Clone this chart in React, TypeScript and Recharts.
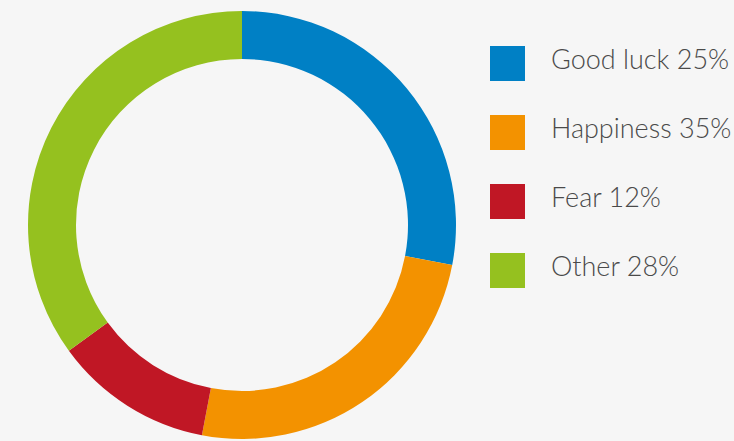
import { PieChart, Pie, Cell, Legend } from "recharts";

const names = ["Good luck", "Happiness", "Fear", "Other"];
const values = [28, 25, 12, 35];
const labels = ["Good luck 25%", "Happiness 35%", "Fear 12%", "Other 28%"];
const colors = ["#0080c5", "#f39200", "#c01725", "#95c11f"];

const BG = "#f6f6f6";
const TEXT = "#4a4a4a";

const data = names.map((n, i) => ({ name: n, value: values[i] }));

function ChartLegend() {
  return (
    <div style={{ position: "relative", width: 244, height: 276 }}>
      {labels.map((l, i) => (
        <div
          key={l}
          style={{ position: "absolute", left: 0, top: i * 69, height: 35, display: "flex", alignItems: "center" }}
        >
          <div style={{ width: 35, height: 35, background: colors[i] }} />
          <span
            style={{
              marginLeft: 26,
              marginTop: -11,
              fontFamily: "Lato, sans-serif",
              fontWeight: 300,
              fontSize: 27,
              color: TEXT,
              whiteSpace: "nowrap",
            }}
          >
            {l}
          </span>
        </div>
      ))}
    </div>
  );
}

export default function App() {
  return (
    <div style={{ position: "fixed", left: 0, top: 0, width: 734, height: 441, background: BG }}>
      <PieChart width={734} height={441} margin={{ top: 0, right: 0, bottom: 0, left: 0 }}>
        <Pie
          data={data}
          dataKey="value"
          nameKey="name"
          cx={242}
          cy={225}
          outerRadius={214}
          innerRadius={166}
          startAngle={90}
          endAngle={-270}
          stroke="none"
          isAnimationActive={false}
        >
          {data.map((d, i) => (
            <Cell key={d.name} fill={colors[i]} />
          ))}
        </Pie>
        <Legend
          layout="vertical"
          wrapperStyle={{ left: 490, top: 46, width: 244 }}
          content={() => <ChartLegend />}
        />
      </PieChart>
    </div>
  );
}
